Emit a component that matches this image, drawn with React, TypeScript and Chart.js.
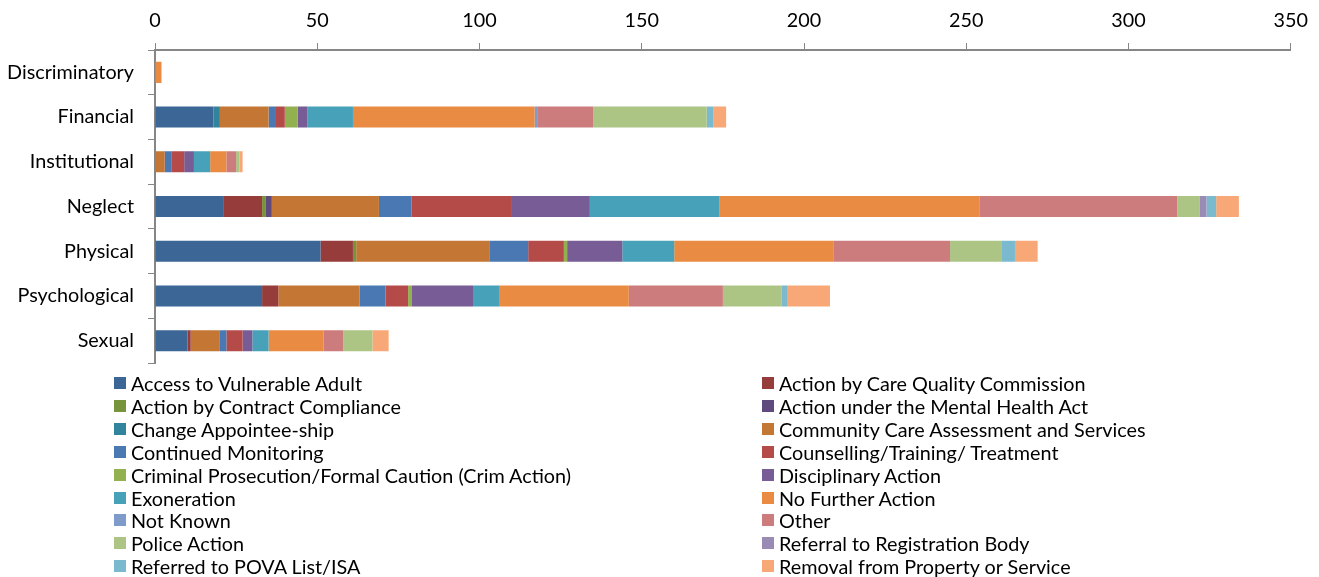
import React, { useEffect, useRef } from "react";
import { Chart, registerables } from "chart.js";

Chart.register(...registerables);

const categories = ["Discriminatory", "Financial", "Institutional", "Neglect", "Physical", "Psychological", "Sexual"];

const seriesNames = [
  "Access to Vulnerable Adult",
  "Action by Care Quality Commission",
  "Action by Contract Compliance",
  "Action under the Mental Health Act",
  "Change Appointee-ship",
  "Community Care Assessment and Services",
  "Continued Monitoring",
  "Counselling/Training/ Treatment",
  "Criminal Prosecution/Formal Caution (Crim Action)",
  "Disciplinary Action",
  "Exoneration",
  "No Further Action",
  "Not Known",
  "Other",
  "Police Action",
  "Referral to Registration Body",
  "Referred to POVA List/ISA",
  "Removal from Property or Service",
];

const seriesColors = [
  "#3B6696", "#963C3A", "#77933C", "#5F4A7E", "#31849B", "#C47634",
  "#4A78B2", "#B54B48", "#92B050", "#775C95", "#46A1B9", "#E98B42",
  "#7F9BCA", "#CC7C7C", "#ACC585", "#9A8BB5", "#7BBACE", "#F8A877",
];

// values per category: Discriminatory, Financial, Institutional, Neglect, Physical, Psychological, Sexual
const accessToVulnerableAdult = [0, 18, 0, 21, 51, 33, 10];
const actionByCQC = [0, 0, 0, 12, 10, 5, 1];
const actionByContractCompliance = [0, 0, 0, 1, 1, 0, 0];
const actionUnderMHA = [0, 0, 0, 2, 0, 0, 0];
const changeAppointeeship = [0, 2, 0, 0, 0, 0, 0];
const communityCare = [0, 15, 3, 33, 41, 25, 9];
const continuedMonitoring = [0, 2, 2, 10, 12, 8, 2];
const counselling = [0, 3, 4, 31, 11, 7, 5];
const criminalProsecution = [0, 4, 0, 0, 1, 1, 0];
const disciplinaryAction = [0, 3, 3, 24, 17, 19, 3];
const exoneration = [0, 14, 5, 40, 16, 8, 5];
const noFurtherAction = [2, 56, 5, 80, 49, 40, 17];
const notKnown = [0, 1, 0, 0, 0, 0, 0];
const other = [0, 17, 3, 61, 36, 29, 6];
const policeAction = [0, 35, 1, 7, 16, 18, 9];
const referralToRegistrationBody = [0, 0, 0, 2, 0, 0, 0];
const referredToPOVA = [0, 2, 0, 3, 4, 2, 0];
const removalFromProperty = [0, 4, 1, 7, 7, 13, 5];

const seriesValues = [
  accessToVulnerableAdult, actionByCQC, actionByContractCompliance, actionUnderMHA,
  changeAppointeeship, communityCare, continuedMonitoring, counselling,
  criminalProsecution, disciplinaryAction, exoneration, noFurtherAction,
  notKnown, other, policeAction, referralToRegistrationBody, referredToPOVA,
  removalFromProperty,
];

const xTicks = [0, 50, 100, 150, 200, 250, 300, 350];

const FONT = "Lato, 'Liberation Sans', sans-serif";
const FONT_SIZE = 19.8;

export default function App() {
  const ref = useRef<HTMLCanvasElement>(null);

  useEffect(() => {
    if (!ref.current) return;
    const chart = new Chart(ref.current, {
      type: "bar",
      data: {
        labels: categories,
        datasets: seriesNames.map((name, i) => ({
          label: name,
          data: seriesValues[i],
          backgroundColor: seriesColors[i],
          borderWidth: 0,
          categoryPercentage: 1,
          barPercentage: 0.47,
        })),
      },
      options: {
        indexAxis: "y",
        responsive: false,
        animation: false,
        layout: { padding: { left: 0, right: 24, top: 0, bottom: 9 } },
        plugins: { legend: { display: false }, tooltip: { enabled: false } },
        scales: {
          x: {
            position: "top",
            stacked: true,
            min: 0,
            max: 350,
            afterBuildTicks: (s: any) => {
              s.ticks = xTicks.map((v) => ({ value: v }));
            },
            afterFit: (s: any) => {
              s.height = 50;
            },
            ticks: {
              color: "#000",
              font: { family: FONT, size: FONT_SIZE },
              padding: 11,
              maxRotation: 0,
            },
            grid: { drawOnChartArea: false, tickLength: 7, color: "#868686", lineWidth: 1 },
            border: { color: "#868686", width: 2 },
          },
          y: {
            stacked: true,
            afterFit: (s: any) => {
              s.width = 155;
            },
            ticks: {
              color: "#000",
              font: { family: FONT, size: FONT_SIZE },
              padding: 14,
            },
            grid: { offset: true, drawOnChartArea: false, tickLength: 7, color: "#868686", lineWidth: 1 },
            border: { color: "#868686", width: 2 },
          },
        },
      },
    });
    return () => chart.destroy();
  }, []);

  const rowStart = 383;
  const rowGap = 22.9;

  return (
    <div style={{ position: "fixed", left: 0, top: 0, width: 1319, height: 577, background: "#fff" }}>
      <canvas ref={ref} width={1319} height={389} style={{ display: "block", position: "absolute", left: 0, top: 0 }} />
      {seriesNames.map((name, i) => {
        const col = i % 2;
        const row = Math.floor(i / 2);
        const cy = rowStart + row * rowGap;
        return (
          <div
            key={name}
            style={{
              position: "absolute",
              left: col === 0 ? 114 : 762,
              top: cy - 12,
              height: 24,
              display: "flex",
              alignItems: "center",
              fontFamily: FONT,
              fontSize: FONT_SIZE,
              color: "#000",
              whiteSpace: "nowrap",
            }}
          >
            <span style={{ display: "inline-block", width: 12, height: 12, background: seriesColors[i], marginRight: 5 }} />
            <span>{name}</span>
          </div>
        );
      })}
    </div>
  );
}
